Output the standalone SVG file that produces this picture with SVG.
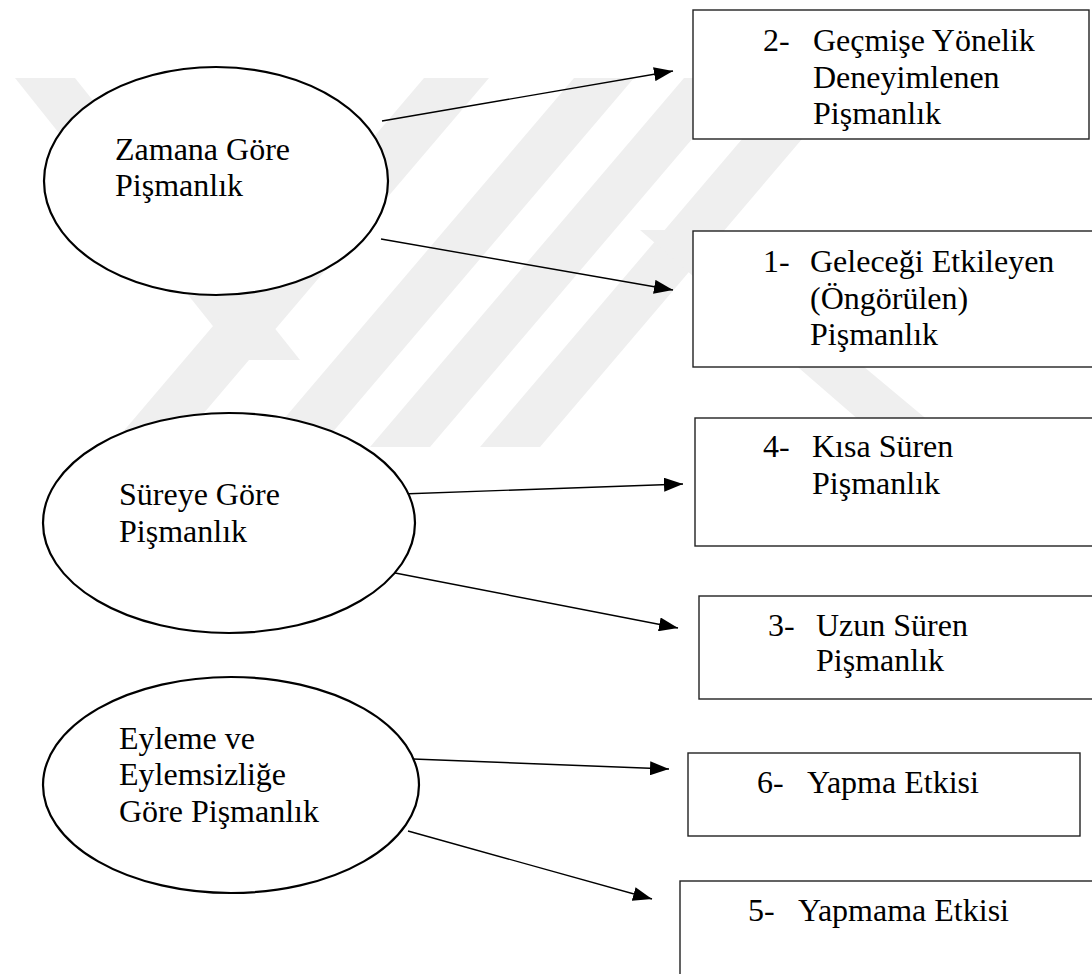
<svg xmlns="http://www.w3.org/2000/svg" width="1092" height="974" viewBox="0 0 1092 974">
<defs>
<style>
.wm{fill:#efefef;stroke:none}
.ell{fill:#ffffff;stroke:#000;stroke-width:2.2}
.box{fill:#ffffff;stroke:#222;stroke-width:1.4}
.lbl{font-family:"Liberation Serif","Times New Roman",serif;font-size:32px;fill:#000}
.con{stroke:#000;stroke-width:1.4;fill:none;marker-end:url(#ah)}
</style>
<marker id="ah" markerUnits="userSpaceOnUse" markerWidth="20" markerHeight="14" refX="19" refY="7" orient="auto">
<path d="M0,0 L19,7 L0,14 Z" fill="#000"/>
</marker>
</defs>
<rect x="0" y="0" width="1092" height="974" fill="#ffffff"/>
<g id="watermark">
<polygon class="wm" points="15,78 75,78 300,360 240,360"/>
<polygon class="wm" points="424,78 489,78 175,447 110,447"/>
<polygon class="wm" points="574,78 634,78 320,447 260,447"/>
<polygon class="wm" points="684,78 744,78 430,447 370,447"/>
<polygon class="wm" points="794,78 854,78 540,447 480,447"/>
<polygon class="wm" points="640,230 700,230 960,447 890,447"/>
</g>
<g id="connectors">
<line class="con" x1="382" y1="121" x2="673" y2="71"/>
<line class="con" x1="381" y1="239" x2="673" y2="290"/>
<line class="con" x1="402" y1="494" x2="683" y2="484"/>
<line class="con" x1="390" y1="572" x2="678" y2="628"/>
<line class="con" x1="413" y1="759" x2="669" y2="769"/>
<line class="con" x1="408" y1="831" x2="652" y2="899"/>
</g>
<g id="zamana">
<ellipse class="ell" cx="216" cy="181" rx="172" ry="114"/>
<text class="lbl" x="115" y="160">Zamana Göre</text>
<text class="lbl" x="115" y="196">Pişmanlık</text>
</g>
<g id="sureye">
<ellipse class="ell" cx="229" cy="523" rx="186" ry="110"/>
<text class="lbl" x="119" y="505">Süreye Göre</text>
<text class="lbl" x="119" y="542">Pişmanlık</text>
</g>
<g id="eyleme">
<ellipse class="ell" cx="231" cy="785" rx="188" ry="108"/>
<text class="lbl" x="119" y="749">Eyleme ve</text>
<text class="lbl" x="119" y="785">Eylemsizliğe</text>
<text class="lbl" x="119" y="822">Göre Pişmanlık</text>
</g>
<g id="box2">
<rect class="box" x="693" y="10" width="396" height="129"/>
<text class="lbl" x="763" y="51">2-</text>
<text class="lbl" x="813" y="51">Geçmişe Yönelik</text>
<text class="lbl" x="813" y="88">Deneyimlenen</text>
<text class="lbl" x="813" y="124">Pişmanlık</text>
</g>
<g id="box1">
<rect class="box" x="693" y="231" width="420" height="136"/>
<text class="lbl" x="763" y="272">1-</text>
<text class="lbl" x="810" y="272">Geleceği Etkileyen</text>
<text class="lbl" x="810" y="309">(Öngörülen)</text>
<text class="lbl" x="810" y="345">Pişmanlık</text>
</g>
<g id="box4">
<rect class="box" x="695" y="418" width="420" height="128"/>
<text class="lbl" x="763" y="457">4-</text>
<text class="lbl" x="812" y="457">Kısa Süren</text>
<text class="lbl" x="812" y="494">Pişmanlık</text>
</g>
<g id="box3">
<rect class="box" x="699" y="596" width="420" height="103"/>
<text class="lbl" x="768" y="636">3-</text>
<text class="lbl" x="816" y="636">Uzun Süren</text>
<text class="lbl" x="816" y="671">Pişmanlık</text>
</g>
<g id="box6">
<rect class="box" x="688" y="753" width="392" height="83"/>
<text class="lbl" x="757" y="793">6-</text>
<text class="lbl" x="807" y="793">Yapma Etkisi</text>
</g>
<g id="box5">
<rect class="box" x="680" y="881" width="430" height="120"/>
<text class="lbl" x="748" y="921">5-</text>
<text class="lbl" x="798" y="921">Yapmama Etkisi</text>
</g>
</svg>
